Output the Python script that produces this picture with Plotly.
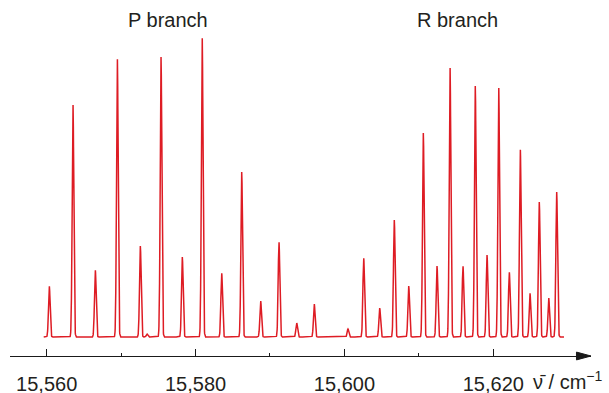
import numpy as np
import plotly.graph_objects as go

# Line positions (cm^-1) and peak intensities (arb. units)
peak_pos = [15.56035, 15.56353, 15.56653, 15.56949, 15.57258, 15.57348, 15.57536,
            15.57822, 15.58089, 15.58351, 15.58620, 15.58875, 15.59121, 15.59359,
            15.59595, 15.60048, 15.60259, 15.60474, 15.60670, 15.60864, 15.61060,
            15.61244, 15.61419, 15.61593, 15.61758, 15.61916, 15.62073, 15.62215,
            15.62363, 15.62493, 15.62618, 15.62745, 15.62852]
peak_int = [51, 233, 67, 279, 91, 3, 280, 80, 300, 64, 165, 36, 95, 14, 33, 8,
            79, 29, 117, 51, 204, 71, 270, 71, 251, 82, 250, 65, 188, 44, 135, 39, 145]

spec_start, spec_end = 15.5596, 15.6295
tick_vals = [15.560, 15.580, 15.600, 15.620]
tick_text = ["15,560", "15,580", "15,600", "15,620"]
minor_vals = [15.570, 15.590, 15.610]

nu = np.arange(spec_start, spec_end, 0.00002)
sigma = 0.00011
inten = np.zeros_like(nu)
for p, a in zip(peak_pos, peak_int):
    inten += a * np.exp(-0.5 * ((nu - p) / sigma) ** 2)

red = "rgb(222,28,36)"
txt = "#231f20"
font_family = "Liberation Sans, Arial, Helvetica, sans-serif"

fig = go.Figure()
fig.add_trace(go.Scatter(x=nu, y=inten, mode="lines",
                         line=dict(color=red, width=1.5), hoverinfo="skip"))

x0, x1 = 15.555069, 15.633129
fig.update_layout(
    width=609, height=393,
    margin=dict(l=10, r=18, t=30, b=37),
    paper_bgcolor="white", plot_bgcolor="white",
    showlegend=False,
    font=dict(family=font_family, color=txt, size=20),
    xaxis=dict(range=[x0, x1], showgrid=False, zeroline=False, automargin=False,
               showline=True, linecolor="#1a1a1a", linewidth=1.3,
               ticks="inside", ticklen=7, tickwidth=1.2, tickcolor="#1a1a1a",
               tickvals=tick_vals, ticktext=tick_text,
               ticklabelstandoff=10,
               tickfont=dict(size=20, color=txt, family=font_family),
               minor=dict(tickvals=minor_vals, ticks="inside", ticklen=3,
                          tickwidth=1.2, tickcolor="#1a1a1a")),
    yaxis=dict(range=[-19, 307], visible=False, automargin=False),
)

# arrow head at the end of the axis
fig.add_shape(type="path", xref="paper", yref="paper",
              path="M 0.975 0.012 L 1.0 0 L 0.975 -0.012 Z",
              fillcolor="#1a1a1a", line=dict(color="#1a1a1a", width=1))

fig.add_annotation(x=(168 - 10) / 581, y=(356 - 20) / 326, xref="paper", yref="paper",
                   text="P branch", showarrow=False, xanchor="center", yanchor="middle",
                   font=dict(size=20, color=txt, family=font_family))
fig.add_annotation(x=(457 - 10) / 581, y=(356 - 20) / 326, xref="paper", yref="paper",
                   text="R branch", showarrow=False, xanchor="center", yanchor="middle",
                   font=dict(size=20, color=txt, family=font_family))
fig.add_annotation(x=(531 - 10) / 581, y=(356 - 380) / 326, xref="paper", yref="paper",
                   text="ν\u0304 / cm<sup>\u22121</sup>", showarrow=False,
                   xanchor="left", yanchor="middle",
                   font=dict(size=20, color=txt, family=font_family))

fig.write_html("out.html", config={"displayModeBar": False},
               post_script="document.body.style.margin='0';")
